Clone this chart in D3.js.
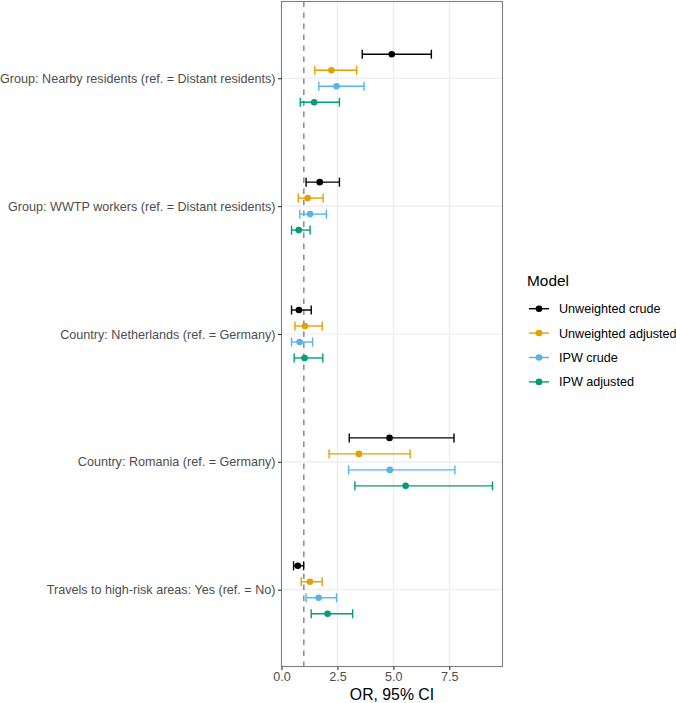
<!DOCTYPE html>
<html><head><meta charset="utf-8">
<script src="https://cdn.jsdelivr.net/npm/d3@7"></script>
<style>body{margin:0;background:#fff;} svg{display:block;font-family:"Liberation Sans",Arial,sans-serif;}</style>
</head><body><svg id="chart" width="676" height="703"></svg>
<script>
const categories = [
  "Group: Nearby residents (ref. = Distant residents)",
  "Group: WWTP workers (ref. = Distant residents)",
  "Country: Netherlands (ref. = Germany)",
  "Country: Romania (ref. = Germany)",
  "Travels to high-risk areas: Yes (ref. = No)"
];
const models = ["Unweighted crude", "Unweighted adjusted", "IPW crude", "IPW adjusted"];
const modelColors = ["#000000", "#E69F00", "#56B4E9", "#009E73"];
// OR estimates per model (rows) x category (cols)
const orValues = [
  [4.93, 1.71, 0.78, 4.83, 0.73],
  [2.23, 1.17, 1.05, 3.46, 1.27],
  [2.46, 1.28, 0.81, 4.84, 1.66],
  [1.46, 0.77, 1.03, 5.55, 2.06]
];
const ciLower = [
  [3.61, 1.10, 0.45, 3.03, 0.54],
  [1.49, 0.75, 0.60, 2.13, 0.88],
  [1.67, 0.82, 0.45, 3.00, 1.10],
  [0.84, 0.45, 0.57, 3.28, 1.33]
];
const ciUpper = [
  [6.70, 2.59, 1.33, 7.71, 0.99],
  [3.36, 1.86, 1.82, 5.75, 1.82],
  [3.69, 2.01, 1.39, 7.75, 2.46],
  [2.59, 1.28, 1.85, 9.43, 3.18]
];
const xTicks = [0, 2.5, 5, 7.5];
const refLine = 1;

const svg = d3.select("#chart");
const P = {left: 281.5, right: 502.5, top: 1.5, bottom: 666.5};

const rows = [];
models.forEach((m, i) => categories.forEach((c, j) => rows.push({
  model: m, mi: i, cat: c, or: orValues[i][j], lo: ciLower[i][j], hi: ciUpper[i][j]
})));

const lo = d3.min(rows, d => d.lo), hi = d3.max(rows, d => d.hi);
const pad = (hi - lo) * 0.05;
const x = d3.scaleLinear().domain([lo - pad, hi + pad]).range([P.left, P.right]);
const y = d3.scalePoint().domain(categories).range([P.top, P.bottom]).padding(0.6);
const step = y.step();
const dodge = d3.scalePoint().domain(models).range([-0.1875, 0.1875]);
const color = d3.scaleOrdinal().domain(models).range(modelColors);

const g = svg.append("g");
// grid
g.selectAll(".vg").data(xTicks).join("line")
  .attr("x1", d => x(d)).attr("x2", d => x(d))
  .attr("y1", P.top).attr("y2", P.bottom)
  .attr("stroke", "#EBEBEB").attr("stroke-width", 1.1);
g.selectAll(".hg").data(categories).join("line")
  .attr("x1", P.left).attr("x2", P.right)
  .attr("y1", d => y(d)).attr("y2", d => y(d))
  .attr("stroke", "#EBEBEB").attr("stroke-width", 1.1);

// reference line
g.append("line").attr("x1", x(refLine)).attr("x2", x(refLine))
  .attr("y1", P.top).attr("y2", P.bottom)
  .attr("stroke", "#6E6E6E").attr("stroke-width", 1.2).attr("stroke-dasharray", "5.5,5.5");

// errorbars
const cap = 4.5;
const eb = g.selectAll(".eb").data(rows).join("g")
  .attr("stroke", d => color(d.model)).attr("stroke-width", 1.4);
const yy = d => y(d.cat) + dodge(d.model) * step;
eb.append("line").attr("x1", d => x(d.lo)).attr("x2", d => x(d.hi)).attr("y1", yy).attr("y2", yy);
eb.append("line").attr("x1", d => x(d.lo)).attr("x2", d => x(d.lo)).attr("y1", d => yy(d) - cap).attr("y2", d => yy(d) + cap);
eb.append("line").attr("x1", d => x(d.hi)).attr("x2", d => x(d.hi)).attr("y1", d => yy(d) - cap).attr("y2", d => yy(d) + cap);
g.selectAll(".pt").data(rows).join("circle")
  .attr("cx", d => x(d.or)).attr("cy", yy).attr("r", 3.3)
  .attr("fill", d => color(d.model));

// panel border
g.append("rect").attr("x", P.left).attr("y", P.top)
  .attr("width", P.right - P.left).attr("height", P.bottom - P.top)
  .attr("fill", "none").attr("stroke", "#7F7F7F").attr("stroke-width", 1.1);

// axes
const xAxis = svg.append("g").attr("transform", `translate(0,${P.bottom})`)
  .call(d3.axisBottom(x).tickValues(xTicks).tickFormat(d3.format(".1f")).tickSize(3.5).tickPadding(2.5));
const yAxis = svg.append("g").attr("transform", `translate(${P.left},0)`)
  .call(d3.axisLeft(y).tickSize(3.5).tickPadding(2.5));
[xAxis, yAxis].forEach(a => {
  a.select(".domain").remove();
  a.selectAll(".tick line").attr("stroke", "#333333").attr("stroke-width", 1.1);
  a.selectAll(".tick text").attr("fill", "#4D4D4D").style("font-size", "12.6px")
    .style("font-family", "'Liberation Sans', Arial, sans-serif");
});

svg.append("text").attr("x", (P.left + P.right) / 2).attr("y", 700)
  .attr("text-anchor", "middle").style("font-size", "15.8px").attr("fill", "#000")
  .text("OR, 95% CI");

// legend
const L = svg.append("g").attr("transform", "translate(527,0)");
L.append("text").attr("x", 0).attr("y", 286).style("font-size", "15.4px").text("Model");
const li = L.selectAll(".li").data(models).join("g")
  .attr("transform", (d, i) => `translate(0,${308.7 + i * 24.4})`);
li.append("line").attr("x1", 2).attr("x2", 22).attr("stroke", d => color(d)).attr("stroke-width", 1.4);
li.append("circle").attr("cx", 12).attr("r", 3.3).attr("fill", d => color(d));
li.append("text").attr("x", 32).attr("y", 4.5).style("font-size", "12.6px").attr("fill", "#000").text(d => d);
</script></body></html>
